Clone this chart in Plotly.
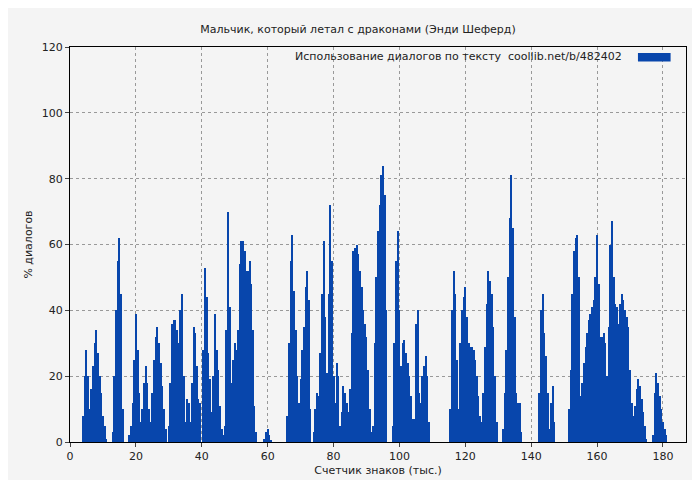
import plotly.graph_objects as go

# Counter of characters (thousands): start of each run of bars, step 0.5
seg_starts = [4, 13, 18, 30, 40.5, 47, 59, 66, 74, 80.5, 92, 98, 115.5, 131.5, 142.5, 151.5, 177]
seg_values = [
    [8, 20, 28, 20, 10, 16, 23, 30, 34, 27, 20, 15, 8, 5, 1],
    [3, 20, 40, 55, 62, 45, 10],
    [2, 5, 12, 25, 39, 28, 15, 6, 10, 18, 23, 18, 10, 6, 15, 25, 32, 35, 30, 24, 17, 10, 4],
    [5, 18, 36, 37, 37, 34, 30, 40, 45, 20, 6, 13, 12, 6, 18, 35, 33, 23, 13, 12],
    [28, 53, 44, 27, 19, 9, 20, 39, 28, 22, 11, 4, 2],
    [5, 34, 70, 41, 18, 25, 30, 28, 34, 54, 61, 61, 58, 52, 52, 55, 48, 34, 11, 3],
    [1, 3, 4, 2, 0.5],
    [8, 30, 55, 63, 46, 34, 20, 12, 19, 28, 35, 47, 52, 43, 10],
    [3, 10, 15, 14, 27, 45, 61, 38, 21, 45, 72, 55, 20],
    [12, 24, 20, 5, 9, 17, 15, 12, 9, 16, 33, 58, 59, 60, 57, 52, 47, 40, 36, 32, 22, 10, 3],
    [5, 30, 50, 64, 72, 81, 84, 75, 40],
    [5, 30, 55, 64, 40, 23, 30, 31, 27, 24, 20, 14, 7, 7, 36, 40, 15, 12, 20, 23, 26, 20, 6],
    [10, 40, 52, 45, 25, 10, 30, 40, 44, 47, 38, 30, 29, 29, 28, 25, 20, 14, 8, 6, 15, 29, 42, 52, 49, 45, 35, 20, 6],
    [4, 15, 28, 50, 68, 81, 65, 38, 15, 12, 12, 3],
    [15, 40, 45, 33, 26, 15, 4, 12, 17, 6],
    [10, 22, 45, 58, 62, 63, 50, 14, 18, 24, 29, 33, 37, 39, 41, 43, 50, 63, 48, 32, 32, 33, 30, 20, 35, 60, 67, 50, 42,
     41, 36, 42, 45, 43, 40, 38, 35, 22, 12, 8, 11, 16, 19, 17, 13, 9, 5, 1],
    [2, 15, 21, 18, 14, 10, 6, 4, 2],
]

xs, ys = [], []
for s, vals in zip(seg_starts, seg_values):
    for i, v in enumerate(vals):
        xs.append(s + 0.5 * i)
        ys.append(v)

blue = "#0846AC"
fig = go.Figure(go.Bar(x=xs, y=ys, width=0.62, marker=dict(color=blue, line=dict(width=0)),
                       showlegend=False))

font = dict(family="DejaVu Sans", size=11, color="#222")
grid = dict(showgrid=True, gridcolor="#999", griddash="dot", gridwidth=1)
fig.update_layout(
    width=700, height=480,
    paper_bgcolor="#f4f4f4", plot_bgcolor="#f4f4f4",
    margin=dict(l=62, r=22, t=39, b=46),
    font=font, bargap=0,
    title=dict(text="Мальчик, который летал с драконами (Энди Шеферд)", x=0.5, y=0.965,
               xanchor="center", font=dict(size=11)),
    xaxis=dict(range=[0, 187], tickvals=[0, 20, 40, 60, 80, 100, 120, 140, 160, 180],
               ticks="outside", ticklen=4, showline=True, linecolor="#000", mirror=True,
               zeroline=False, automargin=False,
               title=dict(text="Счетчик знаков (тыс.)", standoff=4, font=dict(size=11)), **grid),
    yaxis=dict(range=[0, 120], tickvals=[0, 20, 40, 60, 80, 100, 120],
               ticks="outside", ticklen=4, showline=True, linecolor="#000", mirror=True,
               zeroline=False, automargin=False,
               title=dict(text="% диалогов", standoff=6, font=dict(size=11)), **grid),
    annotations=[dict(text="Использование диалогов по тексту  coollib.net/b/482402",
                      xref="paper", yref="paper", x=0.9, y=0.975, xanchor="right",
                      yanchor="middle", showarrow=False, font=dict(size=11))],
    shapes=[dict(type="rect", xref="paper", yref="paper", x0=0.922, x1=0.975,
                 y0=0.963, y1=0.985, fillcolor=blue, line=dict(width=0))],
)
fig.write_html("out.html")
